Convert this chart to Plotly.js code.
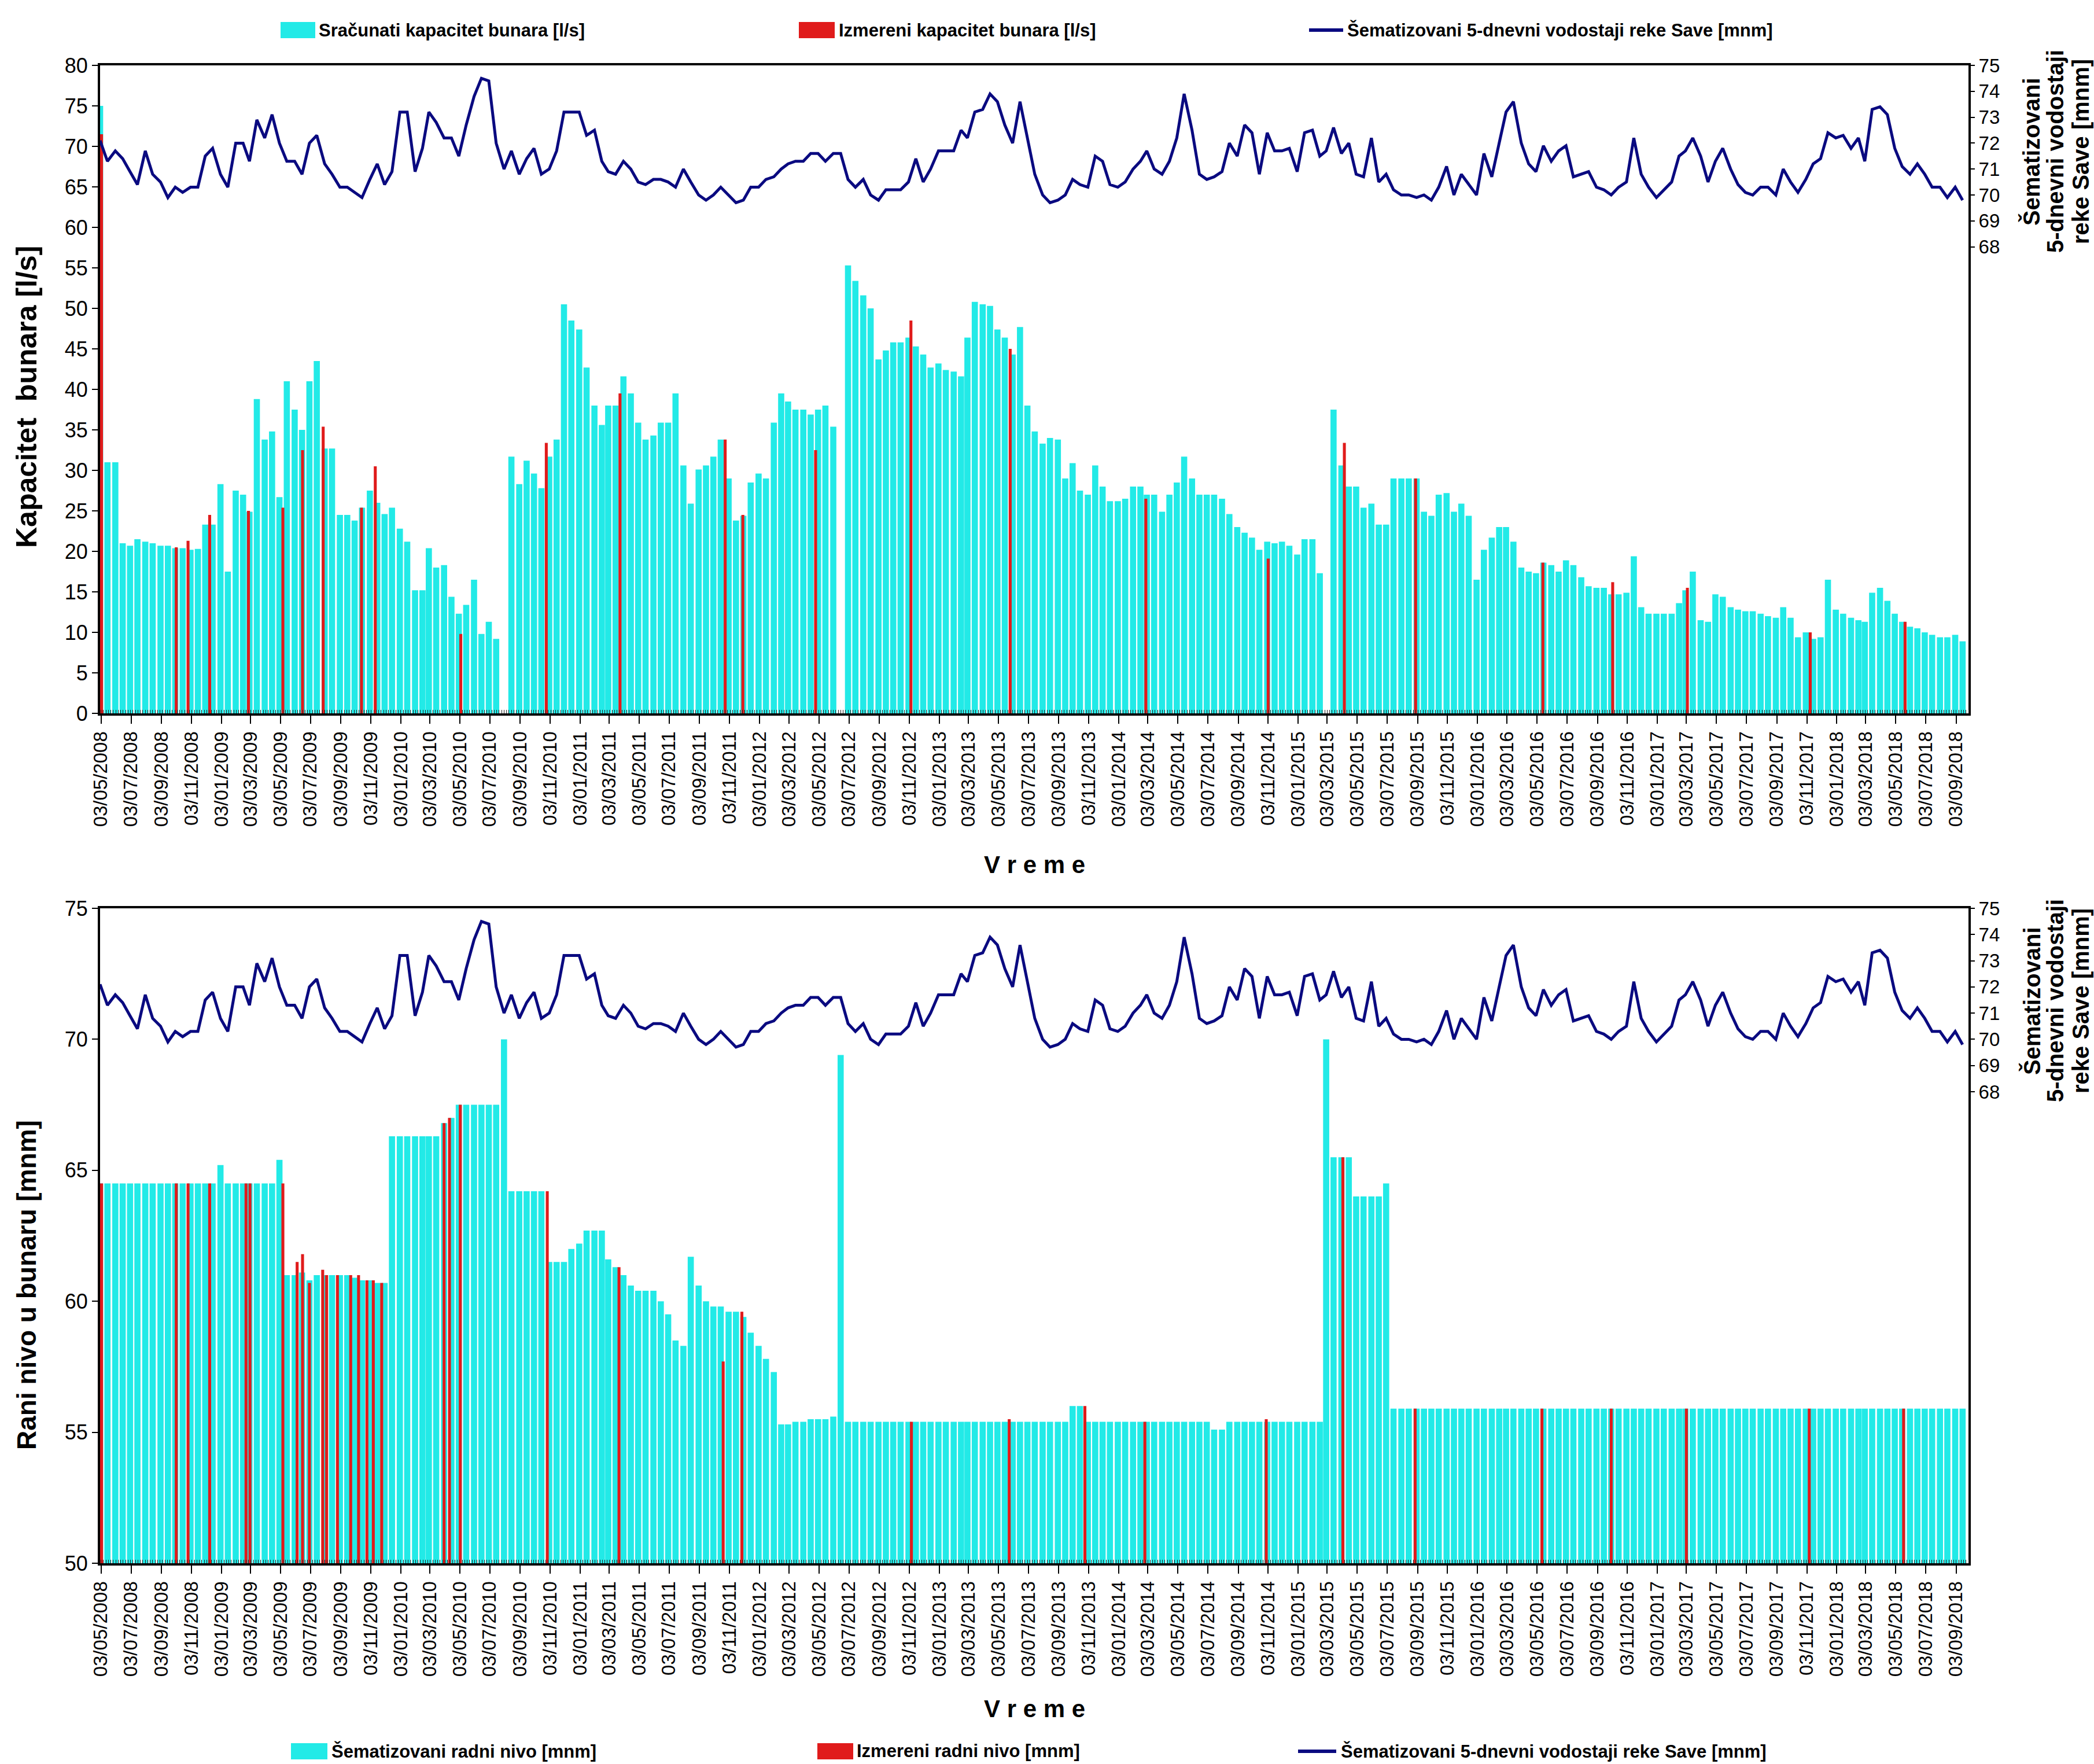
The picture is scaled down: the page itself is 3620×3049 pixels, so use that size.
<!DOCTYPE html>
<html>
<head>
<meta charset="utf-8">
<script src="https://cdn.plot.ly/plotly-3.0.1.min.js"></script>
<style>
html,body{margin:0;padding:0;background:#ffffff;}
#chart{width:3620px;height:3049px;}
</style>
</head>
<body>
<div id="chart"></div>
<script>
// ---------------- DATA ----------------
// Semi-monthly sampling dates (1st and 16th of each month), May 2008 - Sep 2018
const sampleDates = (function () {
  const d = [];
  for (let y = 2008; y <= 2018; y++) {
    for (let m = 1; m <= 12; m++) {
      if (y === 2008 && m < 5) continue;
      if (y === 2018 && m > 9) break;
      const mm = String(m).padStart(2, '0');
      d.push(y + '-' + mm + '-01', y + '-' + mm + '-16');
    }
  }
  return d;
})();

// Sračunati kapacitet bunara [l/s]
const capacityCalc = [
  75, 31, 31, 21, 20.7, 21.5, 21.2, 21, 20.7, 20.7, 20.4, 20.4, 20.2, 20.3, 23.3, 23.3,
  28.3, 17.5, 27.5, 27, 24.9, 38.8, 33.8, 34.8, 26.7, 41, 37.5, 35, 41, 43.5, 32.7, 32.7, 24.5, 24.5, 23.8, 25.4, 27.5, 26, 24.6, 25.4,
  22.8, 21.2, 15.2, 15.2, 20.4, 18, 18.3, 14.4, 12.3, 13.4, 16.5, 9.8, 11.3, 9.2, 0, 31.7, 28.3, 31.2, 29.6, 27.8, 31.7, 33.8, 50.5, 48.5,
  47.4, 42.7, 38, 35.6, 38, 38, 41.6, 39.5, 35.9, 33.8, 34.3, 35.9, 35.9, 39.5, 30.6, 25.9, 30.1, 30.6, 31.7, 33.8, 29, 23.8, 24.4, 28.5,
  29.6, 29, 35.9, 39.5, 38.5, 37.5, 37.5, 36.9, 37.5, 38, 35.4, 0, 55.3, 53.4, 51.6, 50, 43.7, 44.8, 45.8, 45.8, 46.4, 45.3, 44.3, 42.7,
  43.2, 42.4, 42.2, 41.6, 46.4, 50.8, 50.5, 50.3, 47.4, 46.4, 44.3, 47.7, 38, 34.8, 33.3, 34, 33.8, 29, 30.9, 27.5, 27, 30.6, 28, 26.2,
  26.2, 26.5, 28, 28, 27, 27, 24.9, 27, 28.5, 31.7, 29, 27, 27, 27, 26.5, 24.6, 23, 22.3, 21.7, 20.2, 21.2, 21, 21.2, 20.7,
  19.6, 21.5, 21.5, 17.3, 0, 37.5, 30.6, 28, 28, 25.4, 25.9, 23.3, 23.3, 29, 29, 29, 29, 24.9, 24.4, 27, 27.2, 24.9, 25.9, 24.4,
  16.5, 20.2, 21.7, 23, 23, 21.2, 18, 17.5, 17.3, 18.6, 18.3, 17.5, 18.9, 18.3, 16.8, 15.7, 15.5, 15.5, 14.7, 14.7, 14.9, 19.4, 13.1, 12.3,
  12.3, 12.3, 12.3, 13.6, 15.2, 17.5, 11.5, 11.3, 14.7, 14.4, 13.1, 12.8, 12.6, 12.6, 12.3, 12, 11.8, 13.1, 11.8, 9.4, 10, 9.2, 9.4, 16.5,
  12.8, 12.3, 11.8, 11.5, 11.3, 14.9, 15.5, 13.9, 12.3, 11.3, 10.7, 10.5, 10, 9.7, 9.4, 9.4, 9.7, 8.9
];

// Šematizovani 5-dnevni vodostaji reke Save [mnm]
const riverStage = [
  72.1, 71.3, 71.7, 71.4, 70.9, 70.4, 71.7, 70.8, 70.5, 69.9, 70.3, 70.1, 70.3, 70.3, 71.5, 71.8,
  70.8, 70.3, 72, 72, 71.3, 72.9, 72.2, 73.1, 72, 71.3, 71.3, 70.8, 72, 72.3, 71.2, 70.8, 70.3, 70.3, 70.1, 69.9, 70.6, 71.2, 70.4, 70.9,
  73.2, 73.2, 70.9, 71.8, 73.2, 72.8, 72.2, 72.2, 71.5, 72.7, 73.8, 74.5, 74.4, 72, 71, 71.7, 70.8, 71.4, 71.8, 70.8, 71, 71.7, 73.2, 73.2,
  73.2, 72.3, 72.5, 71.3, 70.9, 70.8, 71.3, 71, 70.5, 70.4, 70.6, 70.6, 70.5, 70.3, 71, 70.5, 70, 69.8, 70, 70.3, 70, 69.7, 69.8, 70.3,
  70.3, 70.6, 70.7, 71, 71.2, 71.3, 71.3, 71.6, 71.6, 71.3, 71.6, 71.6, 70.6, 70.3, 70.6, 70, 69.8, 70.2, 70.2, 70.2, 70.5, 71.4, 70.5, 71,
  71.7, 71.7, 71.7, 72.5, 72.2, 73.2, 73.3, 73.9, 73.6, 72.7, 72, 73.6, 72.2, 70.8, 70, 69.7, 69.8, 70, 70.6, 70.4, 70.3, 71.5, 71.3, 70.4,
  70.3, 70.5, 71, 71.3, 71.7, 71, 70.8, 71.3, 72.2, 73.9, 72.5, 70.8, 70.6, 70.7, 70.9, 72, 71.5, 72.7, 72.4, 70.8, 72.4, 71.7, 71.7, 71.8,
  70.9, 72.4, 72.5, 71.5, 71.7, 72.6, 71.6, 72, 70.8, 70.7, 72.2, 70.5, 70.8, 70.2, 70, 70, 69.9, 70, 69.8, 70.3, 71.1, 70, 70.8, 70.4,
  70, 71.6, 70.7, 72, 73.2, 73.6, 72, 71.2, 70.9, 71.9, 71.3, 71.7, 71.9, 70.7, 70.8, 70.9, 70.3, 70.2, 70, 70.3, 70.5, 72.2, 70.8, 70.3,
  69.9, 70.2, 70.5, 71.5, 71.7, 72.2, 71.5, 70.5, 71.3, 71.8, 71, 70.4, 70.1, 70, 70.3, 70.3, 70, 71, 70.5, 70.1, 70.6, 71.2, 71.4, 72.4,
  72.2, 72.3, 71.8, 72.2, 71.3, 73.3, 73.4, 73.1, 71.8, 71.1, 70.8, 71.2, 70.8, 70.3, 70.3, 69.9, 70.3, 69.8
];

// Šematizovani radni nivo [mnm]
const levelCalc = [
  64.5, 64.5, 64.5, 64.5, 64.5, 64.5, 64.5, 64.5, 64.5, 64.5, 64.5, 64.5, 64.5, 64.5, 64.5, 64.5,
  65.2, 64.5, 64.5, 64.5, 64.5, 64.5, 64.5, 64.5, 65.4, 61, 61, 61.1, 60.8, 61, 61, 61, 61, 61, 60.9, 60.8, 60.8, 60.7, 60.7, 66.3,
  66.3, 66.3, 66.3, 66.3, 66.3, 66.3, 66.8, 67, 67.5, 67.5, 67.5, 67.5, 67.5, 67.5, 70, 64.2, 64.2, 64.2, 64.2, 64.2, 61.5, 61.5, 61.5, 62,
  62.2, 62.7, 62.7, 62.7, 61.6, 61.3, 61, 60.6, 60.4, 60.4, 60.4, 60, 59.5, 58.5, 58.3, 61.7, 60.6, 60, 59.8, 59.8, 59.6, 59.6, 59.4, 58.8,
  58.3, 57.8, 57.3, 55.3, 55.3, 55.4, 55.4, 55.5, 55.5, 55.5, 55.6, 69.4, 55.4, 55.4, 55.4, 55.4, 55.4, 55.4, 55.4, 55.4, 55.4, 55.4, 55.4, 55.4,
  55.4, 55.4, 55.4, 55.4, 55.4, 55.4, 55.4, 55.4, 55.4, 55.4, 55.4, 55.4, 55.4, 55.4, 55.4, 55.4, 55.4, 55.4, 56, 56, 55.4, 55.4, 55.4, 55.4,
  55.4, 55.4, 55.4, 55.4, 55.4, 55.4, 55.4, 55.4, 55.4, 55.4, 55.4, 55.4, 55.4, 55.1, 55.1, 55.4, 55.4, 55.4, 55.4, 55.4, 55.4, 55.4, 55.4, 55.4,
  55.4, 55.4, 55.4, 55.4, 70, 65.5, 65.5, 65.5, 64, 64, 64, 64, 64.5, 55.9, 55.9, 55.9, 55.9, 55.9, 55.9, 55.9, 55.9, 55.9, 55.9, 55.9,
  55.9, 55.9, 55.9, 55.9, 55.9, 55.9, 55.9, 55.9, 55.9, 55.9, 55.9, 55.9, 55.9, 55.9, 55.9, 55.9, 55.9, 55.9, 55.9, 55.9, 55.9, 55.9, 55.9, 55.9,
  55.9, 55.9, 55.9, 55.9, 55.9, 55.9, 55.9, 55.9, 55.9, 55.9, 55.9, 55.9, 55.9, 55.9, 55.9, 55.9, 55.9, 55.9, 55.9, 55.9, 55.9, 55.9, 55.9, 55.9,
  55.9, 55.9, 55.9, 55.9, 55.9, 55.9, 55.9, 55.9, 55.9, 55.9, 55.9, 55.9, 55.9, 55.9, 55.9, 55.9, 55.9, 55.9
];

// Izmereni kapacitet bunara [l/s]
const capacityMeasDates = ['2008-05-04', '2008-10-03', '2008-10-27', '2008-12-10', '2009-02-27', '2009-05-08', '2009-06-17',
  '2009-07-29', '2009-10-15', '2009-11-12', '2010-05-05', '2010-10-26', '2011-03-25', '2011-10-25', '2011-11-30', '2012-04-26',
  '2012-11-06', '2013-05-27', '2014-02-27', '2014-11-03', '2015-04-07', '2015-08-30', '2016-05-15', '2016-10-04', '2017-03-05',
  '2017-11-10', '2018-05-22'];
const capacityMeas = [71.5, 20.5, 21.3, 24.5, 25, 25.4, 32.5, 35.4, 25.4, 30.5, 9.8, 33.4, 39.5, 33.8, 24.5, 32.5,
  48.5, 45, 26.5, 19.1, 33.4, 29, 18.6, 16.2, 15.5, 10, 11.3];

// Izmereni radni nivo [mnm]
const levelMeasDates = ['2008-05-04', '2008-10-03', '2008-10-27', '2008-12-10', '2009-02-22', '2009-03-02', '2009-05-08',
  '2009-06-06', '2009-06-17', '2009-07-01', '2009-07-28', '2009-08-05', '2009-08-27', '2009-09-23', '2009-10-09', '2009-10-26',
  '2009-11-08', '2009-11-25', '2010-04-01', '2010-04-12', '2010-05-04', '2010-10-28', '2011-03-23', '2011-10-21', '2011-11-28',
  '2012-11-07', '2013-05-25', '2013-10-26', '2014-02-25', '2014-10-30', '2015-04-04', '2015-08-29', '2016-05-13', '2016-10-01',
  '2017-03-03', '2017-11-08', '2018-05-19'];
const levelMeas = [64.5, 64.5, 64.5, 64.5, 64.5, 64.5, 64.5,
  61.5, 61.8, 60.7, 61.2, 61, 61, 61, 61, 60.8,
  60.8, 60.7, 66.8, 67, 67.5, 64.2, 61.3, 57.7, 59.6,
  55.4, 55.5, 56, 55.4, 55.5, 65.5, 55.9, 55.9, 55.9,
  55.9, 55.9, 55.9];

// x tick labels
const tickLabels = [
  '03/05/2008', '03/07/2008', '03/09/2008', '03/11/2008',
  '03/01/2009', '03/03/2009', '03/05/2009', '03/07/2009', '03/09/2009', '03/11/2009',
  '03/01/2010', '03/03/2010', '03/05/2010', '03/07/2010', '03/09/2010', '03/11/2010',
  '03/01/2011', '03/03/2011', '03/05/2011', '03/07/2011', '03/09/2011', '03/11/2011',
  '03/01/2012', '03/03/2012', '03/05/2012', '03/07/2012', '03/09/2012', '03/11/2012',
  '03/01/2013', '03/03/2013', '03/05/2013', '03/07/2013', '03/09/2013', '03/11/2013',
  '03/01/2014', '03/03/2014', '03/05/2014', '03/07/2014', '03/09/2014', '03/11/2014',
  '03/01/2015', '03/03/2015', '03/05/2015', '03/07/2015', '03/09/2015', '03/11/2015',
  '03/01/2016', '03/03/2016', '03/05/2016', '03/07/2016', '03/09/2016', '03/11/2016',
  '03/01/2017', '03/03/2017', '03/05/2017', '03/07/2017', '03/09/2017', '03/11/2017',
  '03/01/2018', '03/03/2018', '03/05/2018', '03/07/2018', '03/09/2018'
];
const capacityTicks = [0, 5, 10, 15, 20, 25, 30, 35, 40, 45, 50, 55, 60, 65, 70, 75, 80];
const levelTicks = [50, 55, 60, 65, 70, 75];
const riverTicks = [68, 69, 70, 71, 72, 73, 74, 75];
const riverTitleLines = ['Šematizovani', '5-dnevni vodostaji', 'reke Save [mnm]'];

// ---------------- STYLE / LAYOUT ----------------
const W = 3620, H = 3049;
const PL = 173, PR = 3403, PT = 113, PB = 2702;
const fx = px => (px - PL) / (PR - PL);
const fy = py => (PB - py) / (PB - PT);
const topDomain = [fy(1233), 1];
const botDomain = [0, fy(1570)];

const DAY = 86400000;
const CYAN = '#22EAE7';
const RED = '#E01B1B';
const NAVY = '#0A0A80';
const FONT = 'Liberation Sans, Arial, Helvetica, sans-serif';

const tickVals = tickLabels.map(s => { const p = s.split('/'); return p[2] + '-' + p[1] + '-' + p[0]; });
const xRange = ['2008-05-01', '2018-09-28'];

function xAxis(anchor) {
  return {
    anchor: anchor, type: 'date', range: xRange,
    tickmode: 'array', tickvals: tickVals, ticktext: tickLabels, tickangle: -90,
    tickfont: {family: FONT, size: 33, color: '#000'},
    ticks: 'outside', ticklen: 14, tickwidth: 2, tickcolor: '#000',
    showline: true, linewidth: 4, linecolor: '#000', mirror: true,
    showgrid: false, zeroline: false,
    minor: {ticks: 'inside', ticklen: 6, tickwidth: 1, tickcolor: '#222', dtick: 5 * DAY, tick0: '2008-05-03', showgrid: false}
  };
}
function yLeft(anchor, domain, range, ticks) {
  return {
    anchor: anchor, domain: domain, range: range,
    tickmode: 'array', tickvals: ticks,
    tickfont: {family: FONT, size: 36, color: '#000'},
    ticks: 'outside', ticklen: 10, tickwidth: 2, tickcolor: '#000',
    showline: true, linewidth: 4, linecolor: '#000', mirror: true,
    showgrid: false, zeroline: false
  };
}
function yRight(over, anchor) {
  return {
    overlaying: over, anchor: anchor, side: 'right', range: [50, 75],
    tickmode: 'array', tickvals: riverTicks,
    tickfont: {family: FONT, size: 33, color: '#000'},
    ticks: 'outside', ticklen: 10, tickwidth: 2, tickcolor: '#000',
    showline: false, showgrid: false, zeroline: false
  };
}

const traces = [
  {type: 'bar', name: 'Sračunati kapacitet bunara [l/s]', x: sampleDates, y: capacityCalc, xaxis: 'x', yaxis: 'y',
   width: 12.5 * DAY, marker: {color: CYAN, line: {width: 0}}},
  {type: 'bar', name: 'Izmereni kapacitet bunara [l/s]', x: capacityMeasDates, y: capacityMeas, xaxis: 'x', yaxis: 'y',
   width: 6 * DAY, marker: {color: RED, line: {width: 0}}},
  {type: 'scatter', mode: 'lines', name: 'Šematizovani 5-dnevni vodostaji reke Save [mnm]', x: sampleDates, y: riverStage,
   xaxis: 'x', yaxis: 'y2', line: {color: NAVY, width: 5}},
  {type: 'bar', name: 'Šematizovani radni nivo [mnm]', x: sampleDates, y: levelCalc, xaxis: 'x2', yaxis: 'y3',
   width: 12.5 * DAY, marker: {color: CYAN, line: {width: 0}}},
  {type: 'bar', name: 'Izmereni radni nivo [mnm]', x: levelMeasDates, y: levelMeas, xaxis: 'x2', yaxis: 'y3',
   width: 6 * DAY, marker: {color: RED, line: {width: 0}}},
  {type: 'scatter', mode: 'lines', name: 'Šematizovani 5-dnevni vodostaji reke Save [mnm]', x: sampleDates, y: riverStage,
   xaxis: 'x2', yaxis: 'y4', line: {color: NAVY, width: 5}}
];

// manual legends (large swatches like the original)
const shapes = [];
const annotations = [];
function legendItem(kind, color, x0, x1, yc, text, textX) {
  if (kind === 'rect') {
    shapes.push({type: 'rect', xref: 'paper', yref: 'paper', x0: fx(x0), x1: fx(x1), y0: fy(yc + 14), y1: fy(yc - 14),
      fillcolor: color, line: {width: 0}});
  } else {
    shapes.push({type: 'line', xref: 'paper', yref: 'paper', x0: fx(x0), x1: fx(x1), y0: fy(yc), y1: fy(yc),
      line: {color: color, width: 6}});
  }
  annotations.push({xref: 'paper', yref: 'paper', x: fx(textX), y: fy(yc), xanchor: 'left', yanchor: 'middle',
    text: '<b>' + text + '</b>', showarrow: false, font: {family: FONT, size: 31, color: '#000'}});
}
legendItem('rect', CYAN, 485, 545, 52, 'Sračunati kapacitet bunara [l/s]', 549);
legendItem('rect', RED, 1381, 1443, 52, 'Izmereni kapacitet bunara [l/s]', 1448);
legendItem('line', NAVY, 2263, 2322, 52, 'Šematizovani 5-dnevni vodostaji reke Save [mnm]', 2327);
legendItem('rect', CYAN, 503, 566, 3027, 'Šematizovani radni nivo [mnm]', 571);
legendItem('rect', RED, 1413, 1475, 3027, 'Izmereni radni nivo [mnm]', 1479);
legendItem('line', NAVY, 2244, 2310, 3027, 'Šematizovani 5-dnevni vodostaji reke Save [mnm]', 2316);

// axis titles
function title(text, x, y, angle, size) {
  annotations.push({xref: 'paper', yref: 'paper', x: fx(x), y: fy(y), xanchor: 'center', yanchor: 'middle',
    text: '<b>' + text + '</b>', textangle: angle, showarrow: false, font: {family: FONT, size: size, color: '#000'}});
}
title('Kapacitet  bunara [l/s]', 46, 686, -90, 50);
title('Rani nivo u bunaru [mnm]', 46, 2221, -90, 46);
title('V r e m e', 1788, 1494, 0, 42);
title('V r e m e', 1788, 2953, 0, 42);
const riverTitleX = [3512, 3553, 3597];
riverTitleLines.forEach((t, i) => {
  title(t, riverTitleX[i], 262, -90, 40);
  title(t, riverTitleX[i], 1730, -90, 40);
});

const layout = {
  width: W, height: H,
  margin: {l: PL, r: W - PR, t: PT, b: H - PB, pad: 0},
  paper_bgcolor: '#ffffff', plot_bgcolor: '#ffffff',
  showlegend: false,
  barmode: 'overlay',
  font: {family: FONT, color: '#000'},
  xaxis: xAxis('y'),
  yaxis: yLeft('x', topDomain, [0, 80], capacityTicks),
  yaxis2: yRight('y', 'x'),
  xaxis2: xAxis('y3'),
  yaxis3: yLeft('x2', botDomain, [50, 75], levelTicks),
  yaxis4: yRight('y3', 'x2'),
  shapes: shapes,
  annotations: annotations
};

Plotly.newPlot('chart', traces, layout, {displayModeBar: false, staticPlot: true});
</script>
</body>
</html>
